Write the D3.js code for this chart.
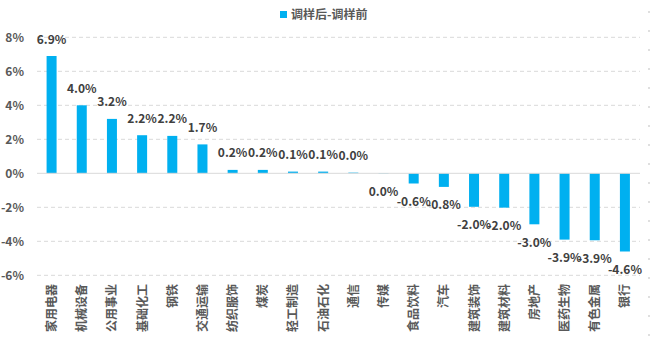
<!DOCTYPE html>
<html>
<head>
<meta charset="utf-8">
<script src="https://cdn.jsdelivr.net/npm/d3@7"></script>
<style>
  body { margin: 0; background: #fff; }
  text { font-family: "Noto Sans CJK SC", "Liberation Sans", sans-serif; font-weight: bold; }
</style>
</head>
<body>
<div id="chart"></div>
<script>
// industries and the change in weight (after - before), in %
const industries = ["家用电器", "机械设备", "公用事业", "基础化工", "钢铁", "交通运输", "纺织服饰", "煤炭",
  "轻工制造", "石油石化", "通信", "传媒", "食品饮料", "汽车", "建筑装饰", "建筑材料", "房地产",
  "医药生物", "有色金属", "银行"];
const diffValues = [6.9, 4.0, 3.2, 2.24, 2.2, 1.7, 0.2, 0.2, 0.1, 0.1, 0.04, -0.02, -0.6, -0.8,
  -1.97, -2.02, -3.0, -3.9, -3.94, -4.6];
const yTicks = [-6, -4, -2, 0, 2, 4, 6, 8];
const seriesName = "调样后-调样前";

const W = 650, H = 337;
const data = industries.map((d, i) => ({ name: d, value: diffValues[i] }));

const svg = d3.select("#chart")
  .append("svg")
    .attr("width", W)
    .attr("height", H);

// scales
const x = d3.scaleBand()
  .domain(industries)
  .range([36.5, 640])
  .padding(0);
const y = d3.scaleLinear()
  .domain([-6, 8])
  .range([275.3, 37.3]);

const barW = 10;
const fmt = v => (Math.round(v * 10) / 10 + 0).toFixed(1) + "%";

// dashed gridlines
svg.append("g")
  .selectAll("line")
  .data(yTicks.filter(t => t !== 0))
  .join("line")
    .attr("x1", 37).attr("x2", 640)
    .attr("y1", d => y(d)).attr("y2", d => y(d))
    .attr("stroke", "#d9d9d9")
    .attr("stroke-width", 1)
    .attr("stroke-dasharray", "4,3");

// y axis labels
const yAxis = svg.append("g")
  .attr("transform", "translate(24,0)")
  .call(d3.axisLeft(y).tickValues(yTicks).tickSize(0).tickPadding(0).tickFormat(d => d + "%"));
yAxis.select(".domain").remove();
yAxis.selectAll("text")
  .attr("fill", "#595959")
  .style("font-size", "12px")
  .style("font-family", "'Noto Sans CJK SC', sans-serif")
  .style("font-weight", "bold");

// bars
svg.append("g")
  .selectAll("rect")
  .data(data)
  .join("rect")
    .attr("x", d => x(d.name) + x.bandwidth() / 2 - barW / 2)
    .attr("y", d => y(Math.max(0, d.value)))
    .attr("width", barW)
    .attr("height", d => Math.abs(y(d.value) - y(0)))
    .attr("fill", "#00B0F0");

// zero line
svg.append("line")
  .attr("x1", 37).attr("x2", 640)
  .attr("y1", y(0)).attr("y2", y(0))
  .attr("stroke", "#d9d9d9")
  .attr("stroke-width", 1);

// value labels
svg.append("g")
  .selectAll("text")
  .data(data)
  .join("text")
    .attr("x", d => x(d.name) + x.bandwidth() / 2)
    .attr("y", d => d.value >= 0 ? y(d.value) - 12.5 : y(d.value) + 22.5)
    .attr("text-anchor", "middle")
    .attr("fill", "#404040")
    .style("font-size", "12px")
    .text(d => fmt(d.value));

// category labels, rotated
svg.append("g")
  .selectAll("text")
  .data(data)
  .join("text")
    .attr("transform", d => "translate(" + (x(d.name) + x.bandwidth() / 2 + 4.5) + ",284) rotate(-90)")
    .attr("text-anchor", "end")
    .attr("fill", "#595959")
    .style("font-size", "12px")
    .text(d => d.name);

// legend
const legend = svg.append("g").attr("transform", "translate(280,11)");
legend.append("rect")
  .attr("width", 7).attr("height", 7)
  .attr("fill", "#00B0F0");
legend.append("text")
  .attr("x", 11).attr("y", 7.5)
  .attr("fill", "#595959")
  .style("font-size", "12px")
  .text(seriesName);

// dotted frame edge on the right
svg.append("line")
  .attr("x1", 649).attr("x2", 649)
  .attr("y1", 11).attr("y2", H)
  .attr("stroke", "#bfbfbf")
  .attr("stroke-dasharray", "2,17");
</script>
</body>
</html>
